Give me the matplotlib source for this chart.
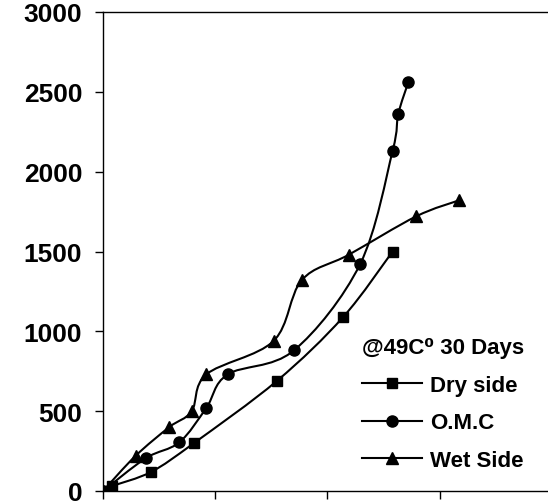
import numpy as np
import matplotlib
matplotlib.use("Agg")
import matplotlib.pyplot as plt
from matplotlib.path import Path
from matplotlib.patches import PathPatch
from matplotlib.lines import Line2D

plt.rcParams['font.family'] = ['Liberation Sans', 'DejaVu Sans']
plt.rcParams['font.weight'] = 'bold'

# data
dry_x = [0, 0.8, 4.3, 8.1, 15.5, 21.4, 25.8]
dry_y = [0, 30, 120, 300, 690, 1090, 1500]

omc_x = [0, 3.8, 6.8, 9.2, 11.1, 17.0, 22.9, 25.8, 26.3, 27.2]
omc_y = [0, 205, 305, 520, 730, 880, 1420, 2130, 2360, 2560]

wet_x = [0, 2.9, 5.9, 7.9, 9.2, 15.2, 17.7, 21.9, 27.9, 31.7]
wet_y = [0, 220, 400, 500, 730, 940, 1320, 1480, 1720, 1820]

series = [
    ("Dry side", dry_x, dry_y, "s", 7),
    ("O.M.C", omc_x, omc_y, "o", 8),
    ("Wet Side", wet_x, wet_y, "^", 9),
]


def smooth_path(xs, ys):
    # excel-style smoothed line as cubic bezier segments
    pts = np.column_stack([xs, ys]).astype(float)
    n = len(pts)
    verts = [pts[0]]
    codes = [Path.MOVETO]
    for i in range(n - 1):
        p0 = pts[i - 1] if i > 0 else pts[i]
        p1 = pts[i]
        p2 = pts[i + 1]
        p3 = pts[i + 2] if i + 2 < n else pts[i + 1]
        c1 = p1 + (p2 - p0) / 6.0
        c2 = p2 - (p3 - p1) / 6.0
        verts += [c1, c2, p2]
        codes += [Path.CURVE4] * 3
    return Path(verts, codes)


fig = plt.figure(figsize=(5.48, 5.02), dpi=100)
ax = fig.add_axes([103 / 548, 10 / 502, 449 / 548, 479 / 502])

handles = []
for name, xs, ys, mk, ms in series:
    ax.add_patch(PathPatch(smooth_path(xs, ys), facecolor='none',
                           edgecolor='black', lw=1.5, zorder=2))
    ax.plot(xs, ys, linestyle='none', marker=mk, ms=ms, color='black', zorder=3)
    handles.append(Line2D([], [], color='black', lw=1.5, marker=mk, ms=ms))

ax.set_xlim(0, 40)
ax.set_ylim(0, 3000)
ax.set_xticks([0, 10, 20, 30, 40])
ax.set_xticklabels([])
ax.set_yticks(range(0, 3001, 500))
ax.tick_params(axis='y', labelsize=19, length=6, width=1, direction='out', pad=9)
ax.tick_params(axis='x', length=6, width=1, direction='out')
for lab in ax.get_yticklabels():
    lab.set_fontweight('bold')
for s in ax.spines.values():
    s.set_linewidth(1)

leg = ax.legend(handles, [s[0] for s in series], title="@49C\u2070 30 Days",
                frameon=False, loc='center', bbox_to_anchor=(0.808, 0.193),
                bbox_transform=fig.transFigure, prop={'size': 16, 'weight': 'bold'},
                title_fontproperties={'size': 16, 'weight': 'bold'},
                handlelength=2.7, handletextpad=0.36, labelspacing=0.75)

fig.savefig("out.png", dpi=100)
